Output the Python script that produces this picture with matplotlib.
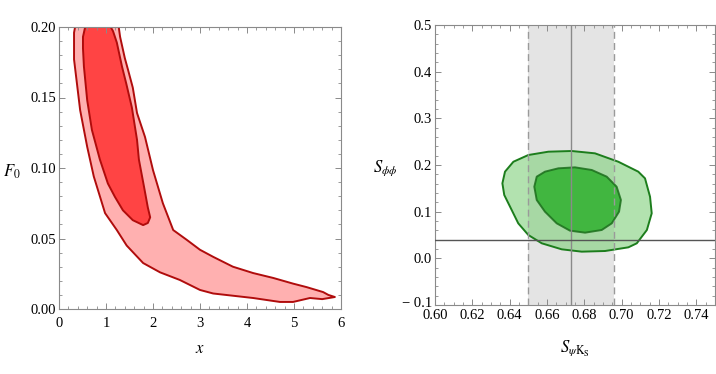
import matplotlib
matplotlib.use("Agg")
import matplotlib.pyplot as plt
import matplotlib.transforms as mtransforms
from matplotlib.ticker import MultipleLocator, FixedLocator, FixedFormatter

# ---- left panel: (x, F0) confidence regions (run past the top of the plot) ----
outer_x = [0.37, 0.32, 0.32, 0.45, 0.60, 0.74, 0.98, 1.23, 1.44, 1.79, 2.15, 2.57,
           3.00, 3.28, 4.13, 4.70, 4.98, 5.34, 5.60, 5.87, 5.73, 5.62, 5.27, 4.98,
           4.56, 4.13, 3.70, 3.28, 3.00, 2.72, 2.43, 2.21, 2.00, 1.83, 1.66, 1.57,
           1.47, 1.40, 1.30, 1.25]
outer_y = [0.205, 0.196, 0.177, 0.141, 0.115, 0.094, 0.068, 0.056, 0.045, 0.0326,
           0.026, 0.0206, 0.0135, 0.011, 0.0078, 0.005, 0.005, 0.0078, 0.007, 0.0085,
           0.010, 0.012, 0.0155, 0.018, 0.022, 0.0255, 0.030, 0.037, 0.042, 0.049,
           0.056, 0.075, 0.0985, 0.122, 0.139, 0.157, 0.1695, 0.178, 0.193, 0.205]

inner_x = [0.51, 0.55, 0.62, 1.02, 1.10, 1.15, 1.23, 1.34, 1.43, 1.55, 1.66, 1.70,
           1.81, 1.89, 1.94, 1.89, 1.79, 1.57, 1.36, 1.19, 1.04, 0.87, 0.70, 0.60,
           0.53, 0.51]
inner_y = [0.193, 0.199, 0.205, 0.205, 0.200, 0.197, 0.189, 0.172, 0.160, 0.143,
           0.120, 0.106, 0.0865, 0.072, 0.065, 0.061, 0.0595, 0.063, 0.070, 0.0795,
           0.089, 0.106, 0.127, 0.148, 0.172, 0.185]

# ---- right panel: (S_psiKs, S_phiphi) confidence regions ----
g_outer_x = [0.6361, 0.6375, 0.6420, 0.6500, 0.6607, 0.6732, 0.6857, 0.6982, 0.7089,
             0.7125, 0.7152, 0.7161, 0.7135, 0.7081, 0.7036, 0.6911, 0.6786, 0.6679,
             0.6572, 0.6500, 0.6446, 0.6402, 0.6371]
g_outer_y = [0.1607, 0.1857, 0.207, 0.2214, 0.2285, 0.230, 0.225, 0.207, 0.1857,
             0.1714, 0.132, 0.0965, 0.0607, 0.0322, 0.0236, 0.0157, 0.0143, 0.0193,
             0.0322, 0.050, 0.075, 0.1107, 0.1357]

g_inner_x = [0.6532, 0.6545, 0.6589, 0.6661, 0.6750, 0.6840, 0.6920, 0.6973, 0.6996,
             0.6986, 0.6947, 0.6893, 0.6804, 0.6723, 0.6652, 0.6589, 0.6545]
g_inner_y = [0.1535, 0.175, 0.1857, 0.1929, 0.195, 0.1893, 0.175, 0.1535, 0.125,
             0.100, 0.075, 0.0607, 0.055, 0.0593, 0.075, 0.100, 0.125]

s_psiks_central = 0.673
s_psiks_err = 0.023
s_phiphi_sm = 0.039

left_yticks = [0.00, 0.05, 0.10, 0.15, 0.20]
left_ylabels = ["0.00", "0.05", "0.10", "0.15", "0.20"]
right_xticks = [0.60, 0.62, 0.64, 0.66, 0.68, 0.70, 0.72, 0.74]
right_xlabels = ["0.60", "0.62", "0.64", "0.66", "0.68", "0.70", "0.72", "0.74"]
right_yticks = [-0.1, 0.0, 0.1, 0.2, 0.3, 0.4, 0.5]
right_ylabels = ["\u2212 0.1", "0.0", "0.1", "0.2", "0.3", "0.4", "0.5"]

plt.rcParams['font.family'] = ['Liberation Serif', 'DejaVu Serif']
plt.rcParams['mathtext.fontset'] = 'stix'
plt.rcParams['font.size'] = 10.5

frame = '#8a8a8a'


def style(ax):
    for s in ax.spines.values():
        s.set_color(frame)
        s.set_linewidth(0.8)
    ax.tick_params(which='both', direction='in', top=True, right=True,
                   color=frame, labelcolor='black')
    ax.tick_params(which='major', length=4, width=0.7, pad=2)
    ax.tick_params(which='minor', length=2, width=0.6)


fig = plt.figure(figsize=(7.16, 3.74), dpi=100)

# left
ax1 = fig.add_axes([59 / 716, 65 / 374, 282 / 716, 282 / 374])
ax1.fill(outer_x, outer_y, facecolor='#ffb0b0', edgecolor='#b00c0c', lw=1.4,
         joinstyle='round')
ax1.fill(inner_x, inner_y, facecolor='#ff4444', edgecolor='#b00c0c', lw=1.4,
         joinstyle='round')
ax1.set_xlim(0, 6)
ax1.set_ylim(0, 0.2)
ax1.xaxis.set_major_locator(MultipleLocator(1))
ax1.xaxis.set_minor_locator(MultipleLocator(0.2))
ax1.yaxis.set_major_locator(FixedLocator(left_yticks))
ax1.yaxis.set_major_formatter(FixedFormatter(left_ylabels))
ax1.yaxis.set_minor_locator(MultipleLocator(0.01))
style(ax1)
ax1.tick_params(axis='x', which='major', pad=6)
ax1.set_xlabel('$x$', fontsize=12)
ax1.xaxis.set_label_coords(0.5, -0.113)
ax1.set_ylabel('$F_0$', fontsize=12, rotation=0)
ax1.yaxis.set_label_coords(-0.167, 0.455)

# right
ax2 = fig.add_axes([435 / 716, 69 / 374, 280 / 716, 280 / 374])
ax2.axvspan(s_psiks_central - s_psiks_err, s_psiks_central + s_psiks_err,
            facecolor='#e4e4e4', edgecolor='none', zorder=0)
ax2.fill(g_outer_x, g_outer_y, facecolor='#7fd07a', alpha=0.6, edgecolor='none',
         zorder=1)
ax2.fill(g_outer_x, g_outer_y, facecolor='none', edgecolor='#1c7d1c', lw=1.4,
         zorder=3, joinstyle='round')
ax2.fill(g_inner_x, g_inner_y, facecolor='#2fb02f', alpha=0.85, edgecolor='#1c6e1c',
         lw=1.4, zorder=2, joinstyle='round')
for xv in (s_psiks_central - s_psiks_err, s_psiks_central + s_psiks_err):
    ax2.axvline(xv, color='#9a9a9a', ls=(0, (5, 3)), lw=1.0, zorder=4)
ax2.axvline(s_psiks_central, color='#8a8a8a', lw=1.0, zorder=4)
ax2.axhline(s_phiphi_sm, color='#555555', lw=1.0, zorder=5)
ax2.set_xlim(0.60, 0.75)
ax2.set_ylim(-0.1, 0.5)
ax2.xaxis.set_major_locator(FixedLocator(right_xticks))
ax2.xaxis.set_major_formatter(FixedFormatter(right_xlabels))
ax2.xaxis.set_minor_locator(MultipleLocator(0.005))
ax2.yaxis.set_major_locator(FixedLocator(right_yticks))
ax2.yaxis.set_major_formatter(FixedFormatter(right_ylabels))
ax2.yaxis.set_minor_locator(MultipleLocator(0.02))
style(ax2)
ax2.tick_params(axis='x', which='major', pad=3)
ax2.set_xlabel(r'$S_{\psi \mathrm{K}_\mathrm{S}}$', fontsize=12)
ax2.xaxis.set_label_coords(0.5, -0.118)
ax2.set_ylabel(r'$S_{\phi\phi}$', fontsize=12, rotation=0)
ax2.yaxis.set_label_coords(-0.179, 0.455)

# lift the bottom y label a little so it clears the "0.60" label
fig.canvas.draw()
lab = ax2.yaxis.get_major_ticks()[0].label1
lab.set_transform(lab.get_transform()
                  + mtransforms.ScaledTranslation(0, 3 / 100, fig.dpi_scale_trans))

fig.savefig('out.png', dpi=100)
